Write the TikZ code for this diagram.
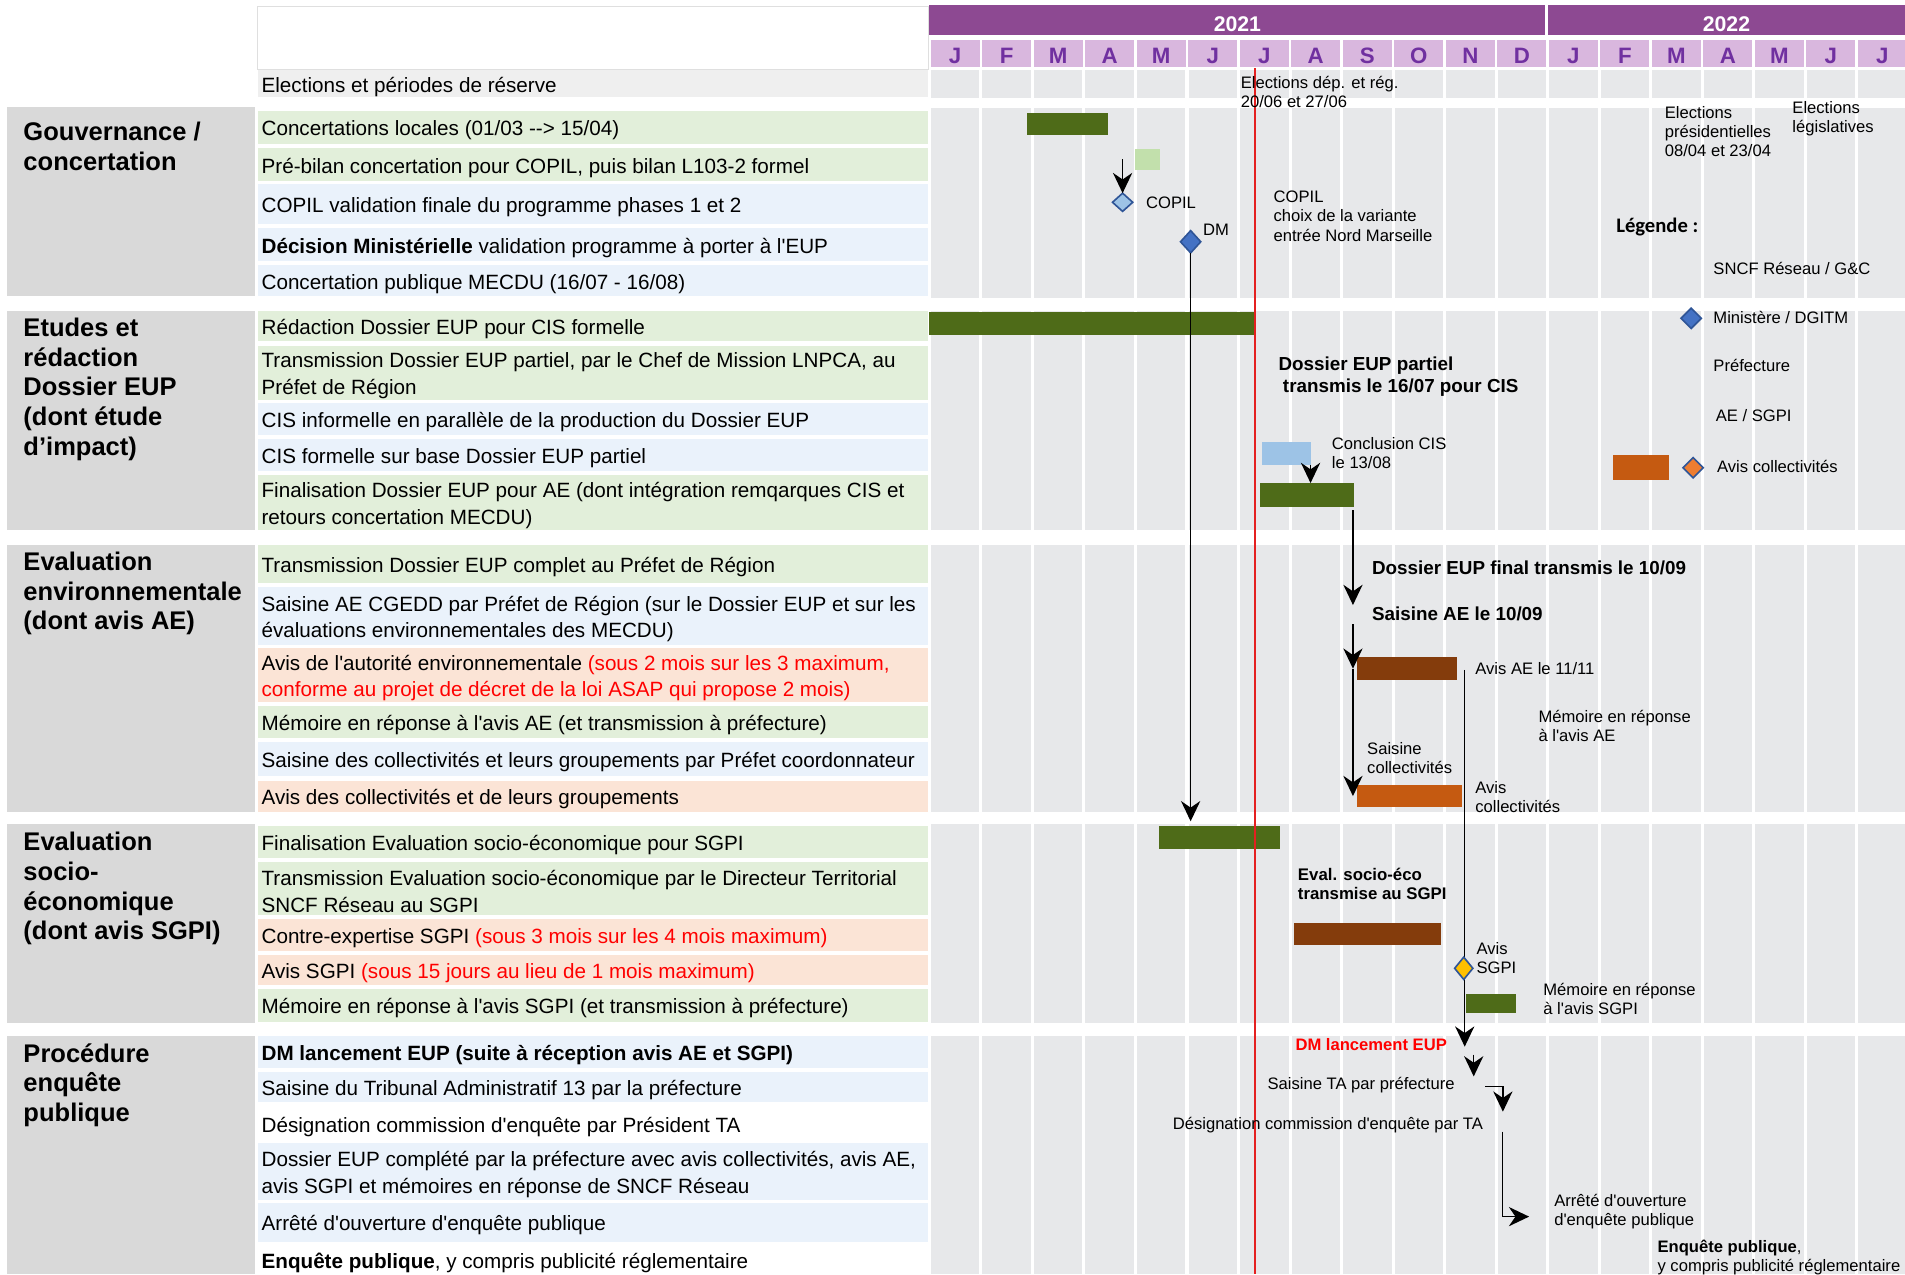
\documentclass[tikz,border=0pt]{standalone}
\usepackage{fontspec}
\setmainfont{Liberation Sans}[Ligatures=TeXOff]
\newfontfamily\legfam{Carlito}
\usetikzlibrary{arrows.meta,shapes.geometric,fit}

\definecolor{yearbg}{RGB}{141,73,146}
\definecolor{monthbg}{RGB}{217,183,222}
\definecolor{monthtxt}{RGB}{112,48,160}
\definecolor{ganttbg}{RGB}{231,232,234}
\definecolor{catbg}{RGB}{217,217,217}
\definecolor{rowgreen}{RGB}{226,239,218}
\definecolor{rowblue}{RGB}{234,242,251}
\definecolor{rowpink}{RGB}{251,228,214}
\definecolor{rowgray}{RGB}{239,239,239}
\definecolor{dkgreen}{RGB}{78,107,24}
\definecolor{ltgreen}{RGB}{194,224,172}
\definecolor{ltblue}{RGB}{157,195,230}
\definecolor{midblue}{RGB}{68,114,196}
\definecolor{dblue}{RGB}{47,85,151}
\definecolor{avisbrown}{RGB}{132,60,12}
\definecolor{avisorange}{RGB}{197,90,17}
\definecolor{ltorange}{RGB}{237,125,49}
\definecolor{sgpiyellow}{RGB}{255,192,0}
\definecolor{todayred}{RGB}{228,32,32}
\definecolor{txtred}{RGB}{255,0,0}

\newcommand{\rowfont}{\fontsize{10.2}{13.2}\selectfont}
\newcommand{\catfont}{\bfseries\fontsize{12.6}{14.6}\selectfont}
\newcommand{\notefont}{\fontsize{8.2}{9.4}\selectfont}
\newcommand{\boldnotefont}{\bfseries\fontsize{9.3}{10.8}\selectfont}
\newcommand{\smallboldfont}{\bfseries\fontsize{8.3}{9}\selectfont}
\newcommand{\legfont}{\legfam\bfseries\fontsize{10.2}{12}\selectfont}
\newcommand{\rd}[1]{\textcolor{txtred}{#1}}

\tikzset{
  rowtext/.style={anchor=west,inner sep=0pt,align=left,font=\rowfont},
  cattext/.style={anchor=west,inner sep=0pt,align=left,font=\catfont},
  note/.style={anchor=west,inner sep=0pt,align=left,font=\notefont},
  boldnote/.style={note,font=\boldnotefont},
  bar/.style={inner sep=0pt,outer sep=0pt,draw=none},
  diam/.style={diamond,inner sep=0pt,outer sep=0pt,minimum width=10pt,minimum height=10pt,line width=0.8pt},
  arr/.style={-{Stealth[length=10pt,width=9.5pt]},line width=0.7pt},
}

\newcommand{\taskrow}[5]{%
  \fill[#3] (212,#1) rectangle (764,#2);
  \node[rowtext] (#4) at (215,{(#1+#2)/2+2.5}) {#5};
}

\begin{document}
\begin{tikzpicture}[x=0.6pt,y=-0.6pt]
    \useasboundingbox (0,0) rectangle (1568,1049);
    \fill[white] (0,0) rectangle (1568,1049);

    \draw[gray!25,fill=white] (212,5) rectangle (764,57);
    \fill[yearbg] (765,4) rectangle (1568,29);
    \draw[white,line width=1.5pt] (1273,4) -- (1273,29);
    \node[text=white,font=\bfseries\fontsize{10.5}{12}\selectfont] (y2021) at (1018.5,19.5) {2021};
    \node[text=white,font=\bfseries\fontsize{10.5}{12}\selectfont] (y2022) at (1421,19.5) {2022};
    \foreach \m [count=\i from 0] in {J,F,M,A,M,J,J,A,S,O,N,D,J,F,M,A,M,J,J}{
        \fill[monthbg] ({765+42.4*\i+1},33) rectangle ({765+42.4*(\i+1)-1},55);
        \node[text=monthtxt,font=\bfseries\fontsize{11}{12}\selectfont] (mon\i) at ({765+42.4*(\i+0.5)},46) {\m};
    }

    \fill[ganttbg] (766,58) rectangle (1568,80.4);
    \fill[ganttbg] (766,89) rectangle (1568,245);
    \fill[ganttbg] (766,255.7) rectangle (1568,436.5);
    \fill[ganttbg] (766,448.6) rectangle (1568,668);
    \fill[ganttbg] (766,678) rectangle (1568,842);
    \fill[ganttbg] (766,852.6) rectangle (1568,1049);
    \foreach \i in {1,...,18}
        \draw[white,line width=1.5pt] ({765+42.4*\i},58) -- ({765+42.4*\i},1049);

    \fill[catbg] (6,88) rectangle (210,244);
    \fill[catbg] (6,255.7) rectangle (210,436);
    \fill[catbg] (6,448.6) rectangle (210,668);
    \fill[catbg] (6,678) rectangle (210,842);
    \fill[catbg] (6,852.6) rectangle (210,1049);
    \node[cattext] (cgouv) at (19,120.5) {Gouvernance /\\concertation};
    \node[cattext] (cetud) at (19,320.5) {Etudes et\\rédaction\\Dossier EUP\\(dont étude\\d’impact)};
    \node[cattext] (cenv) at (19,488.5) {Evaluation\\environnementale\\(dont avis AE)};
    \node[cattext] (csoc) at (19,731.5) {Evaluation\\socio-\\économique\\(dont avis SGPI)};
    \node[cattext] (cproc) at (19,893) {Procédure\\enquête\\publique};

    \taskrow{58}{80}{rowgray}{relect}{Elections et périodes de réserve}
    \taskrow{91.4}{118.5}{rowgreen}{rconc}{Concertations locales (01/03 --> 15/04)}
    \taskrow{122}{149}{rowgreen}{rpreb}{Pré-bilan concertation pour COPIL, puis bilan L103-2 formel}
    \taskrow{151.6}{184.4}{rowblue}{rcopil}{COPIL validation finale du programme phases 1 et 2}
    \taskrow{188}{214.6}{rowblue}{rdm}{\textbf{Décision Ministérielle} validation programme à porter à l'EUP}
    \taskrow{218}{244}{rowblue}{rmecdu}{Concertation publique MECDU (16/07 - 16/08)}
    \taskrow{255.7}{281}{rowgreen}{rredac}{Rédaction Dossier EUP pour CIS formelle}
    \taskrow{284.5}{329}{rowgreen}{rtrans}{Transmission Dossier EUP partiel, par le Chef de Mission LNPCA, au\\Préfet de Région}
    \taskrow{332}{358}{rowblue}{rcisi}{CIS informelle en parallèle de la production du Dossier EUP}
    \taskrow{361.5}{388}{rowblue}{rcisf}{CIS formelle sur base Dossier EUP partiel}
    \taskrow{391}{436}{rowgreen}{rfind}{Finalisation Dossier EUP pour AE (dont intégration remqarques CIS et\\retours concertation MECDU)}
    \taskrow{448.6}{480}{rowgreen}{rcompl}{Transmission Dossier EUP complet au Préfet de Région}
    \taskrow{483}{531}{rowblue}{rsaisae}{Saisine AE CGEDD par Préfet de Région (sur le Dossier EUP et sur les\\évaluations environnementales des MECDU)}
    \taskrow{533.6}{577.6}{rowpink}{ravisae}{Avis de l'autorité environnementale \rd{(sous 2 mois sur les 3 maximum,}\\\rd{conforme au projet de décret de la loi ASAP qui propose 2 mois)}}
    \taskrow{581}{607.6}{rowgreen}{rmemae}{Mémoire en réponse à l'avis AE (et transmission à préfecture)}
    \taskrow{611}{639}{rowblue}{rsaiscol}{Saisine des collectivités et leurs groupements par Préfet coordonnateur}
    \taskrow{643}{668}{rowpink}{raviscol}{Avis des collectivités et de leurs groupements}
    \taskrow{680}{706}{rowgreen}{rfinsoc}{Finalisation Evaluation socio-économique pour SGPI}
    \taskrow{709.5}{753}{rowgreen}{rtranssoc}{Transmission Evaluation socio-économique par le Directeur Territorial\\SNCF Réseau au SGPI}
    \taskrow{756.5}{783}{rowpink}{rcontre}{Contre-expertise SGPI \rd{(sous 3 mois sur les 4 mois maximum)}}
    \taskrow{786}{811}{rowpink}{ravissgpi}{Avis SGPI \rd{(sous 15 jours au lieu de 1 mois maximum)}}
    \taskrow{814}{841}{rowgreen}{rmemsgpi}{Mémoire en réponse à l'avis SGPI (et transmission à préfecture)}
    \taskrow{852.6}{879}{rowblue}{rdmeup}{\textbf{DM lancement EUP (suite à réception avis AE et SGPI)}}
    \taskrow{882}{907}{rowblue}{rsaista}{Saisine du Tribunal Administratif 13 par la préfecture}
    \taskrow{909.5}{940}{white}{rdesig}{Désignation commission d'enquête par Président TA}
    \taskrow{941}{988}{rowblue}{rdoscompl}{Dossier EUP complété par la préfecture avec avis collectivités, avis AE,\\avis SGPI et mémoires en réponse de SNCF Réseau}
    \taskrow{990}{1022}{rowblue}{rarrete}{Arrêté d'ouverture d'enquête publique}
    \taskrow{1025}{1049}{white}{renq}{\textbf{Enquête publique}, y compris publicité réglementaire}

    \node[bar,fill=dkgreen,fit={(845,93) (912,111)}] (concert) {};
    \node[bar,fill=ltgreen,fit={(934,123) (955,140)}] (prebilan) {};
    \node[bar,fill=dkgreen,fit={(765,256.5) (1033,275.7)}] (redac) {};
    \node[bar,fill=ltblue,fit={(1039,364) (1078.7,383)}] (cisf) {};
    \node[bar,fill=dkgreen,fit={(1036.8,397.6) (1114.5,417.4)}] (findos) {};
    \node[bar,fill=avisbrown,fit={(1116.6,540.8) (1199.5,560)}] (avisae) {};
    \node[bar,fill=avisorange,fit={(1116.6,646) (1203,664.5)}] (aviscol) {};
    \node[bar,fill=dkgreen,fit={(954,680) (1053.6,699)}] (finsoc) {};
    \node[bar,fill=avisbrown,fit={(1065,760) (1186,778)}] (contre) {};
    \node[bar,fill=dkgreen,fit={(1207,818) (1248,834)}] (memsgpi) {};

    \draw[todayred,line width=1pt] (1033,56) -- (1033,1049);

    \node[diam,fill=ltblue,draw=dblue,minimum height=9pt] (copil) at (924,166.5) {};
    \node[diam,fill=midblue,draw=dblue,minimum height=11pt] (dm) at (980,199) {};

    \coordinate (prebout) at (924,131);
    \draw[arr] (prebout) -- (copil.north);
    \draw[arr] (dm.south) -- ([yshift=2.4pt]dm.south |- finsoc.north);
    \draw[arr] (cisf.south east) -- (cisf.south east |- findos.north);
    \coordinate (finout) at (1113.6,420);
    \coordinate (saisae) at (1113.6,498);
    \draw[arr] (finout) -- (saisae);
    \coordinate (aein) at (1113.6,514);
    \draw[arr] (aein) -- (aein |- avisae.west);
    \draw[arr] (aein |- avisae.west) -- (aein |- aviscol.west);
    \coordinate (aeout) at (1205.6,551.4);
    \coordinate (dmeup) at (1205.6,861.5);
    \draw[arr] (aeout) -- (dmeup);
    \node[diam,fill=sgpiyellow,draw=dblue,minimum width=9pt,minimum height=11pt] (avissgpi) at (1204.8,797) {};
    \coordinate (ta1) at (1213,868);
    \coordinate (ta2) at (1213,886);
    \draw[arr] (ta1) -- (ta2);
    \coordinate (ta3) at (1222.5,894.4);
    \coordinate (ta4) at (1237,915);
    \draw[arr] (ta3) -| (ta4);
    \coordinate (ta5) at (1236.5,931.5);
    \coordinate (ta6) at (1258.6,1001.4);
    \draw[arr] (ta5) |- (ta6);

    \node[note] (nelecdep) at (1021,75.5) {Elections dép. et rég.\\20/06 et 27/06};
    \node[note] (nelecpres) at (1370,108) {Elections\\présidentielles\\08/04 et 23/04};
    \node[note] (neleclegis) at (1475,97.5) {Elections\\législatives};
    \node[note] (ncopil) at (943,167) {COPIL};
    \node[note] (ndm) at (990,189) {DM};
    \node[note] (nchoix) at (1048,178) {COPIL\\choix de la variante\\entrée Nord Marseille};
    \node[boldnote] (npartiel) at (1052,310) {Dossier EUP partiel\\\hspace*{2.2pt}transmis le 16/07 pour CIS};
    \node[note] (ncis) at (1096,373) {Conclusion CIS\\le 13/08};
    \node[boldnote] (nfinal) at (1129,467) {Dossier EUP final transmis le 10/09};
    \node[boldnote] (nsaisae) at (1129,505) {Saisine AE le 10/09};
    \node[note] (navisae) at (1214,550) {Avis AE le 11/11};
    \node[note] (nmemae) at (1266,597.5) {Mémoire en réponse\\à l'avis AE};
    \node[note] (nsaiscol) at (1125,624) {Saisine\\collectivités};
    \node[note] (naviscol) at (1214,656) {Avis\\collectivités};
    \node[note,font=\smallboldfont] (nevalsoc) at (1068,727.5) {Eval. socio-éco\\transmise au SGPI};
    \node[note] (navissgpi) at (1215,788.5) {Avis\\SGPI};
    \node[note] (nmemsgpi) at (1270,822.5) {Mémoire en réponse\\à l'avis SGPI};
    \node[note,font=\bfseries\fontsize{8.2}{9.4}\selectfont,text=txtred] (ndmeup) at (1066,860) {DM lancement EUP};
    \node[note] (nsaista) at (1043,893) {Saisine TA par préfecture};
    \node[note] (ndesig) at (965,926) {Désignation commission d'enquête par TA};
    \node[note] (narrete) at (1279,997) {Arrêté d'ouverture\\d'enquête publique};
    \node[note] (nenq) at (1364,1035) {\textbf{Enquête publique},\\y compris publicité réglementaire};

    \node[note,font=\legfont] (legende) at (1330,187) {Légende :};
    \node[note] (legsncf) at (1410,221) {SNCF Réseau / G\&C};
    \node[diam,fill=midblue,draw=dblue] (legmin) at (1392,262) {};
    \node[note] (legmintxt) at (1410,261) {Ministère / DGITM};
    \node[note] (legpref) at (1410,301) {Préfecture};
    \node[note] (legae) at (1412,342) {AE / SGPI};
    \node[bar,fill=avisorange,fit={(1328,374.5) (1374,395)}] (legbar) {};
    \node[diam,fill=ltorange,draw=dblue] (legcol) at (1393.6,385) {};
    \node[note] (legcoltxt) at (1413,384) {Avis collectivités};
\end{tikzpicture}
\end{document}
